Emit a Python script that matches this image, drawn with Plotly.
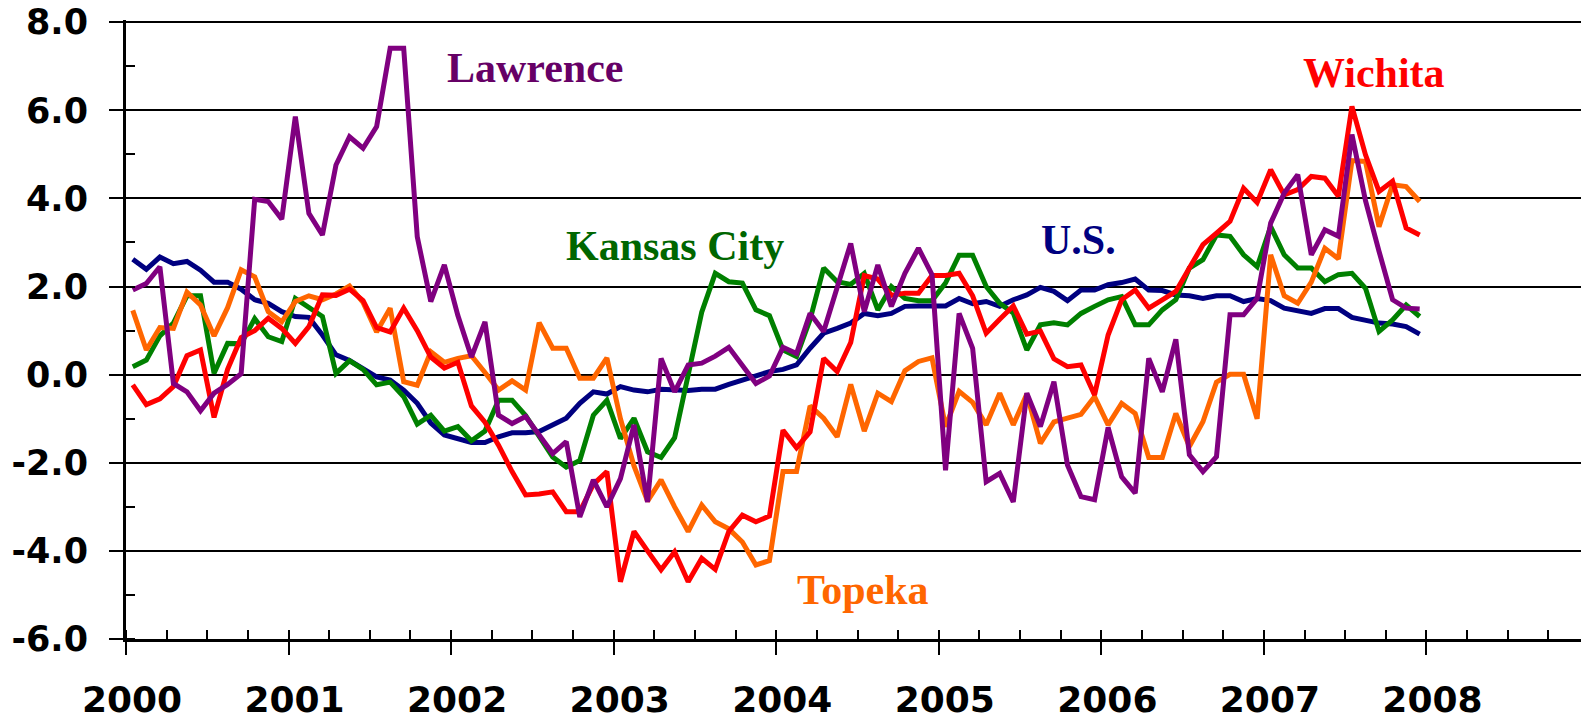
import plotly.graph_objects as go

# Crecimiento del empleo, % anual, datos mensuales ene-2000 .. dic-2007
us = [2.62, 2.39, 2.67, 2.52, 2.57, 2.37, 2.10, 2.10, 1.94, 1.70, 1.62, 1.43,
      1.32, 1.30, 0.90, 0.45, 0.32, 0.14, -0.05, -0.12, -0.35, -0.65, -1.10, -1.37,
      -1.45, -1.54, -1.54, -1.41, -1.32, -1.32, -1.29, -1.14, -0.99, -0.65, -0.39, -0.44,
      -0.27, -0.35, -0.39, -0.33, -0.35, -0.36, -0.33, -0.33, -0.22, -0.12, -0.05, 0.07,
      0.12, 0.22, 0.60, 0.94, 1.05, 1.17, 1.39, 1.34, 1.39, 1.55, 1.56, 1.55,
      1.56, 1.73, 1.61, 1.66, 1.55, 1.70, 1.81, 1.98, 1.89, 1.68, 1.92, 1.92,
      2.04, 2.09, 2.17, 1.92, 1.91, 1.81, 1.79, 1.73, 1.79, 1.79, 1.66, 1.73,
      1.68, 1.51, 1.45, 1.39, 1.50, 1.50, 1.30, 1.23, 1.17, 1.15, 1.09, 0.92]

kansas_city = [0.18, 0.33, 0.88, 1.17, 1.79, 1.79, 0.03, 0.71, 0.70, 1.27, 0.86, 0.75,
               1.73, 1.53, 1.32, 0.03, 0.32, 0.12, -0.23, -0.17, -0.50, -1.12, -0.92, -1.28,
               -1.18, -1.50, -1.28, -0.58, -0.58, -0.93, -1.41, -1.87, -2.10, -1.95, -0.92, -0.58,
               -1.45, -0.99, -1.75, -1.88, -1.43, 0.00, 1.42, 2.30, 2.11, 2.08, 1.47, 1.34,
               0.56, 0.41, 1.25, 2.42, 2.11, 2.05, 2.30, 1.47, 2.00, 1.73, 1.68, 1.68,
               2.08, 2.71, 2.71, 2.00, 1.62, 1.40, 0.56, 1.13, 1.18, 1.13, 1.39, 1.55,
               1.70, 1.77, 1.13, 1.13, 1.47, 1.70, 2.42, 2.61, 3.17, 3.14, 2.72, 2.45,
               3.36, 2.72, 2.42, 2.42, 2.11, 2.27, 2.30, 1.96, 0.98, 1.24, 1.58, 1.32]

topeka = [1.46, 0.56, 1.07, 1.05, 1.87, 1.58, 0.88, 1.52, 2.38, 2.22, 1.43, 1.20,
          1.66, 1.79, 1.70, 1.83, 2.01, 1.64, 0.97, 1.51, -0.16, -0.24, 0.52, 0.28,
          0.37, 0.43, 0.05, -0.35, -0.14, -0.35, 1.18, 0.60, 0.60, -0.08, -0.08, 0.38,
          -1.00, -2.07, -2.87, -2.39, -3.00, -3.56, -2.96, -3.34, -3.50, -3.80, -4.32, -4.22,
          -2.20, -2.20, -0.71, -0.99, -1.41, -0.22, -1.28, -0.42, -0.61, 0.09, 0.30, 0.38,
          -1.18, -0.38, -0.63, -1.14, -0.42, -1.14, -0.44, -1.56, -1.07, -0.99, -0.90, -0.50,
          -1.14, -0.65, -0.88, -1.88, -1.88, -0.88, -1.63, -1.07, -0.17, 0.01, 0.01, -1.00,
          2.72, 1.79, 1.62, 2.10, 2.87, 2.63, 4.86, 4.84, 3.36, 4.31, 4.27, 3.93]

wichita = [-0.23, -0.68, -0.55, -0.27, 0.43, 0.56, -0.97, 0.12, 0.84, 1.00, 1.28, 1.05,
           0.71, 1.09, 1.81, 1.80, 1.94, 1.68, 1.07, 0.97, 1.51, 1.00, 0.40, 0.15,
           0.28, -0.71, -1.08, -1.60, -2.20, -2.73, -2.71, -2.66, -3.11, -3.11, -2.49, -2.20,
           -4.70, -3.56, -4.00, -4.43, -4.02, -4.70, -4.17, -4.42, -3.56, -3.19, -3.34, -3.21,
           -1.26, -1.66, -1.30, 0.37, 0.07, 0.73, 2.25, 2.17, 1.80, 1.85, 1.85, 2.25,
           2.25, 2.30, 1.79, 0.94, 1.26, 1.56, 0.92, 0.99, 0.36, 0.18, 0.22, -0.46,
           0.90, 1.70, 1.92, 1.51, 1.70, 1.89, 2.42, 2.95, 3.21, 3.48, 4.23, 3.91,
           4.65, 4.08, 4.20, 4.50, 4.46, 4.05, 6.09, 4.99, 4.16, 4.39, 3.33, 3.17]

lawrence = [1.92, 2.07, 2.45, -0.20, -0.39, -0.82, -0.42, -0.22, 0.02, 3.98, 3.93, 3.53,
            5.86, 3.66, 3.17, 4.76, 5.40, 5.14, 5.63, 7.41, 7.41, 3.13, 1.66, 2.49,
            1.34, 0.40, 1.20, -0.92, -1.11, -0.95, -1.37, -1.79, -1.52, -3.23, -2.39, -3.00,
            -2.36, -1.14, -2.89, 0.37, -0.39, 0.22, 0.26, 0.42, 0.62, 0.22, -0.20, -0.03,
            0.62, 0.48, 1.39, 0.98, 2.00, 2.98, 1.43, 2.49, 1.55, 2.30, 2.87, 2.27,
            -2.17, 1.39, 0.60, -2.43, -2.24, -2.89, -0.42, -1.18, -0.16, -2.05, -2.77, -2.84,
            -1.20, -2.32, -2.69, 0.37, -0.39, 0.80, -1.82, -2.20, -1.86, 1.36, 1.36, 1.73,
            3.44, 4.12, 4.54, 2.72, 3.29, 3.14, 5.45, 3.95, 2.80, 1.70, 1.51, 1.49]

# eje X: mitad de cada mes
meses = [2000 + (m + 0.5) / 12 for m in range(96)]

anios = [2000, 2001, 2002, 2003, 2004, 2005, 2006, 2007, 2008]
anios_texto = ["2000", "2001", "2002", "2003", "2004", "2005", "2006", "2007", "2008"]
ticks_y = [-6, -4, -2, 0, 2, 4, 6, 8]
ticks_y_texto = ["-6.0", "-4.0", "-2.0", "0.0", "2.0", "4.0", "6.0", "8.0"]

series = [
    ("U.S.", us, "#000080"),
    ("Kansas City", kansas_city, "#008000"),
    ("Topeka", topeka, "#FF6600"),
    ("Wichita", wichita, "#FF0000"),
    ("Lawrence", lawrence, "#800080"),
]

fig = go.Figure()
for nombre, valores, color in series:
    fig.add_trace(go.Scatter(x=meses, y=valores, name=nombre, mode="lines",
                             line=dict(color=color, width=5)))

# etiquetas de cada serie (en vez de leyenda)
etiquetas = [
    ("Lawrence", 2002.52, 6.95, "#660066"),
    ("Kansas City", 2003.38, 2.92, "#006600"),
    ("U.S.", 2005.86, 3.05, "#000080"),
    ("Wichita", 2007.68, 6.84, "#FF0000"),
    ("Topeka", 2004.535, -4.89, "#FF6600"),
]
for texto, xa, ya, color in etiquetas:
    fig.add_annotation(x=xa, y=ya, text=texto, showarrow=False,
                       xanchor="center", yanchor="middle",
                       font=dict(family="Liberation Serif", size=42, color=color, weight="bold"))

# la pagina tiene 8px de margen en body: se descuentan aqui
# (el rango llega a 8.05 para que plotly no quite la rejilla de 8.0)
fig.update_layout(
    width=1581, height=710,
    margin=dict(l=118, r=0, t=12, b=79),
    paper_bgcolor="white", plot_bgcolor="white",
    showlegend=False,
    xaxis=dict(range=[2000, 2009], tickvals=anios, ticktext=anios_texto,
               ticks="outside", ticklen=13, tickwidth=2, tickcolor="black",
               showline=True, linecolor="black", linewidth=2.5,
               showgrid=False, zeroline=False, automargin=False,
               ticklabelstandoff=14, ticklabelshift=6, ticklabeloverflow="allow",
               tickfont=dict(family="DejaVu Sans", size=36, color="black", weight="bold"),
               minor=dict(dtick=0.25, tick0=2000, ticks="inside", ticklen=9,
                          tickwidth=2, tickcolor="black", showgrid=False)),
    # segundo eje solo para la parte interior de las marcas de año
    xaxis2=dict(range=[2000, 2009], overlaying="x", anchor="y", side="bottom",
                tickvals=anios, ticks="inside", ticklen=13, tickwidth=2, tickcolor="black",
                showticklabels=False, showgrid=False, showline=False, zeroline=False,
                automargin=False),
    yaxis=dict(range=[-6, 8.05], tickvals=ticks_y, ticktext=ticks_y_texto,
               ticks="outside", ticklen=14, tickwidth=2, tickcolor="black",
               showline=True, linecolor="black", linewidth=3,
               showgrid=True, gridcolor="black", gridwidth=1.5, zeroline=False,
               ticklabelstandoff=14, automargin=False, ticklabeloverflow="allow",
               tickfont=dict(family="DejaVu Sans", size=35, color="black", weight="bold"),
               minor=dict(dtick=1, tick0=-6, ticks="inside", ticklen=9,
                          tickwidth=2, tickcolor="black", showgrid=False)),
)

fig.write_html("out.html")
